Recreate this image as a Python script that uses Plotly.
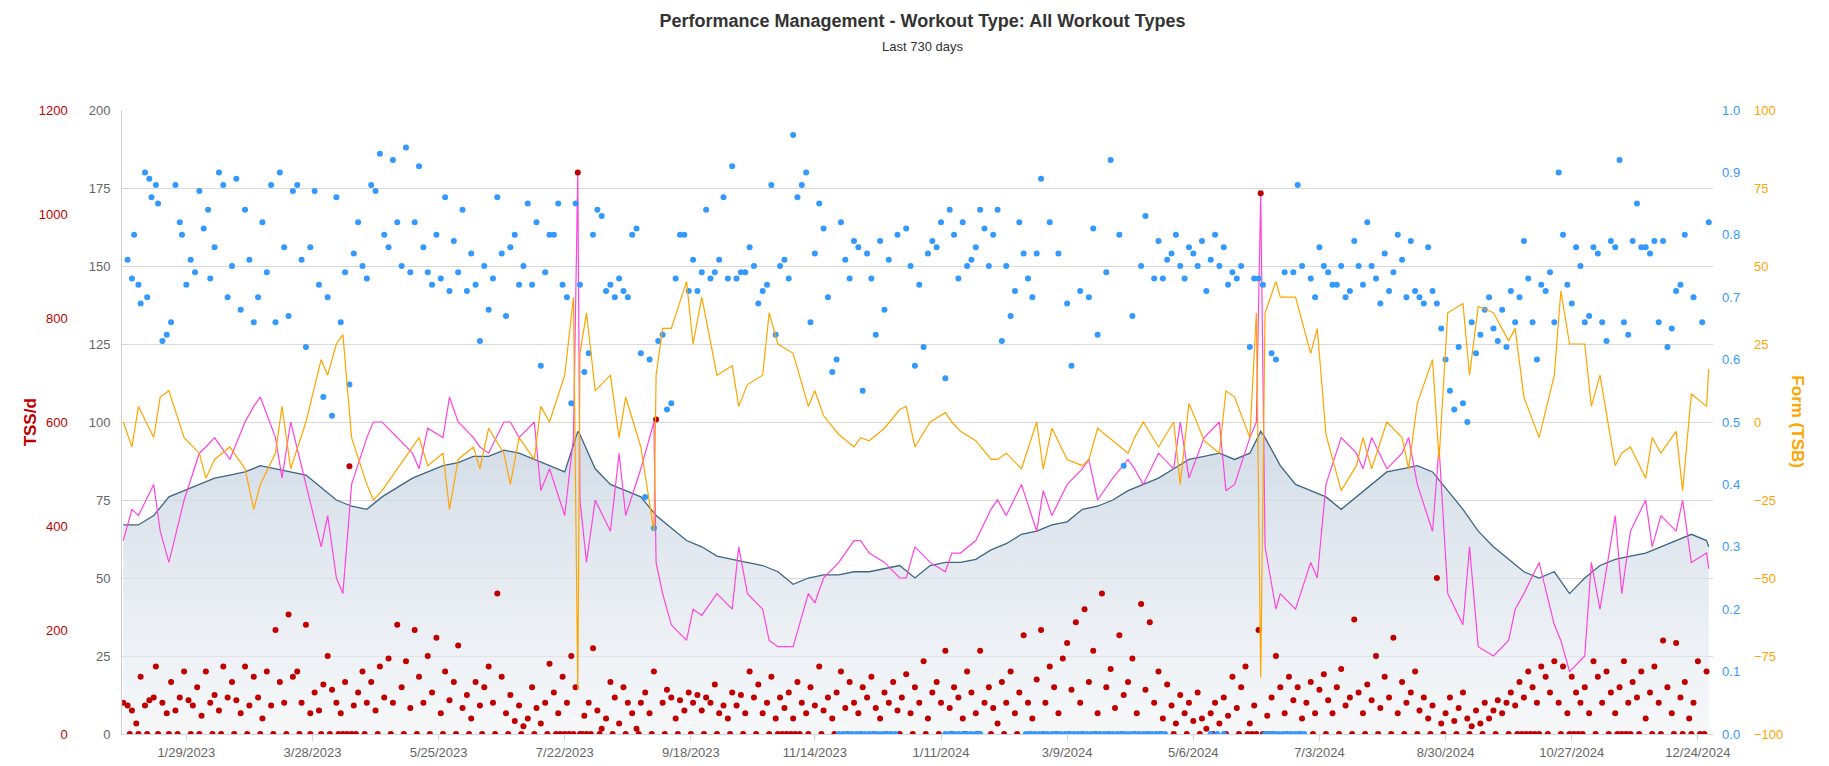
import pandas as pd
import numpy as np
import plotly.graph_objects as go

start = pd.Timestamp("2022-12-31")

tick_dates = ["2023-01-29", "2023-03-28", "2023-05-25", "2023-07-22", "2023-09-18", "2023-11-14",
              "2024-01-11", "2024-03-09", "2024-05-06", "2024-07-03", "2024-08-30", "2024-10-27",
              "2024-12-24"]

# weekly CTL / ATL / TSB (one value every 7 days from start)
ctl = [67, 67, 70, 76, 78, 80, 82, 83, 84, 86, 85, 84, 83, 79, 75, 73, 72, 76, 79, 82,
       84, 86, 87, 89, 89, 91, 90, 88, 86, 84, 96, 85, 80, 78, 76, 70, 66, 62, 60, 57,
       56, 55, 54, 52, 48, 50, 51, 51, 52, 52, 53, 54, 50, 54, 55, 55, 56, 59, 61, 64,
       65, 67, 68, 72, 73, 75, 78, 80, 82, 85, 88, 89, 90, 88, 90, 95, 86, 80, 78, 76,
       72, 76, 80, 84, 85, 86, 84, 78, 72, 65, 60, 56, 52, 50, 52, 45, 50, 54, 56, 57,
       58, 60, 62, 64, 62]
atl = [62, 70, 80, 55, 75, 90, 95, 88, 100, 108, 95, 100, 80, 60, 50, 80, 95, 100, 95, 90,
       98, 95, 100, 95, 90, 100, 95, 100, 85, 70, 75, 75, 65, 70, 85, 55, 35, 30, 38, 45,
       40, 45, 40, 28, 28, 45, 50, 55, 62, 58, 55, 50, 60, 55, 52, 58, 62, 72, 70, 80,
       65, 70, 80, 85, 75, 82, 88, 80, 90, 85, 82, 95, 100, 80, 95, 60, 45, 40, 55, 80,
       95, 90, 95, 85, 90, 80, 65, 45, 35, 28, 25, 30, 45, 55, 35, 20, 25, 40, 70, 65,
       75, 70, 65, 55, 58]
tsb = [0, 5, -5, 10, -5, -10, -12, -8, -15, -20, -10, -15, 0, 20, 25, -5, -20, -22, -15, -8,
       -14, -10, -12, -8, -2, -10, -5, -12, 0, 15, 22, 10, 15, 8, -8, 15, 30, 45, 40, 15,
       18, 12, 15, 25, 22, 5, 2, -4, -8, -6, -2, 4, -8, 0, 3, -3, -6, -12, -10, -15,
       0, -2, -12, -14, -2, -6, -10, 0, -8, 0, 6, -6, -10, 8, -5, 35, 40, 40, 22, -4,
       -22, -14, -15, 0, -5, 6, 20, 35, 38, 37, 35, 26, 8, -5, 15, 25, 25, 15, -14, -8,
       -18, -10, -3, 9, 5]

# mid-week wiggles and short spikes between the weekly points
ctl_extra_day = [209, 523, 729]
ctl_extra = [97, 97, 60]
atl_extra_day = [4, 17, 38, 60, 73, 94, 101, 115, 136, 150, 164, 178, 192, 207, 209, 213, 228, 244, 248,
                 262, 283, 297, 318, 339, 360, 381, 402, 423, 444, 465, 486, 507, 521, 523, 530,
                 549, 570, 591, 605, 619, 640, 661, 675, 689, 703, 717, 729]
atl_extra = [72, 65, 92, 105, 82, 70, 45, 100, 85, 108, 92, 100, 78, 95, 180, 55, 90, 100, 45,
             40, 60, 30, 42, 62, 50, 58, 75, 78, 88, 85, 100, 78, 100, 173, 40,
             50, 85, 95, 92, 60, 40, 30, 55, 45, 60, 75, 53]
tsb_extra_day = [4, 17, 38, 60, 73, 94, 101, 115, 136, 150, 164, 178, 192, 207, 209, 213, 228, 244, 248,
                 262, 283, 297, 318, 339, 360, 381, 402, 423, 444, 465, 486, 507, 521, 523, 530,
                 549, 570, 591, 605, 619, 640, 661, 675, 689, 703, 717, 729]
tsb_extra = [-8, 8, -18, -28, 5, 15, 28, -25, -5, -28, -15, -20, 5, 40, -86, 35, -5, -35, 30,
             25, 5, 35, 10, -5, 5, 0, -12, -15, -12, -5, -20, 10, 35, -82, 45,
             30, -5, -15, -12, 15, 30, 42, 5, -10, -5, -22, 17]

# daily TSS (day offset, value)
tss_day = [0, 2, 4, 6, 8, 10, 12, 14, 15, 18, 20, 22, 24, 26, 28, 30, 32, 34, 36, 38,
           40, 42, 44, 46, 48, 50, 52, 54, 56, 58, 60, 62, 64, 66, 68, 70, 72, 74, 76, 78,
           80, 82, 84, 86, 88, 90, 92, 94, 96, 98, 100, 102, 104, 106, 108, 110, 112, 114, 116, 118,
           120, 122, 124, 126, 128, 130, 132, 134, 136, 138, 140, 142, 144, 146, 148, 150, 152, 154, 156, 158,
           160, 162, 164, 166, 168, 170, 172, 174, 176, 178, 180, 182, 184, 186, 188, 190, 192, 194, 196, 198,
           200, 202, 204, 206, 208, 209, 212, 214, 216, 218, 220, 222, 224, 226, 228, 230, 232, 234, 236, 238,
           240, 242, 244, 245, 248, 250, 252, 254, 256, 258, 260, 262, 264, 266, 268, 270, 272, 274, 276, 278,
           280, 282, 284, 286, 288, 290, 292, 294, 296, 298, 300, 302, 304, 306, 308, 310, 312, 314, 316, 318,
           320, 322, 324, 326, 328, 330, 332, 334, 336, 338, 340, 342, 344, 346, 348, 350, 352, 354, 356, 358,
           360, 362, 364, 366, 368, 370, 372, 374, 376, 378, 380, 382, 384, 386, 388, 390, 392, 394, 396, 398,
           400, 402, 404, 406, 408, 410, 412, 414, 416, 418, 420, 422, 424, 426, 428, 430, 432, 434, 436, 438,
           440, 442, 444, 446, 448, 450, 452, 454, 456, 458, 460, 462, 464, 466, 468, 470, 472, 474, 476, 478,
           480, 482, 484, 486, 488, 490, 492, 494, 496, 498, 500, 502, 504, 506, 508, 510, 512, 514, 516, 518,
           520, 522, 523, 526, 528, 530, 532, 534, 536, 538, 540, 542, 544, 546, 548, 550, 552, 554, 556, 558,
           560, 562, 564, 566, 568, 570, 572, 574, 576, 578, 580, 582, 584, 586, 588, 590, 592, 594, 596, 598,
           600, 602, 604, 606, 608, 610, 612, 614, 616, 618, 620, 622, 624, 626, 628, 630, 632, 634, 636, 638,
           640, 642, 644, 646, 648, 650, 652, 654, 656, 658, 660, 662, 664, 666, 668, 670, 672, 674, 676, 678,
           680, 682, 684, 686, 688, 690, 692, 694, 696, 698, 700, 702, 704, 706, 708, 710, 712, 714, 716, 718,
           720, 722, 724, 728]
tss = [60, 55, 45, 20, 110, 55, 65, 70, 130, 60, 40, 100, 45, 70, 120, 65, 55, 90, 35, 120,
       60, 75, 45, 130, 70, 100, 65, 40, 130, 55, 110, 70, 30, 120, 55, 200, 100, 60, 230, 110,
       120, 60, 210, 40, 80, 45, 95, 150, 85, 60, 40, 100, 515, 55, 80, 120, 60, 100, 45, 130,
       70, 145, 60, 210, 90, 140, 50, 200, 110, 60, 150, 80, 185, 40, 120, 65, 100, 170, 50, 75,
       30, 100, 55, 90, 130, 60, 270, 110, 40, 75, 25, 55, 15, 30, 90, 50, 20, 60, 135, 80,
       40, 110, 60, 150, 90, 1080, 35, 60, 165, 45, 10, 30, 100, 70, 20, 90, 60, 40, 10, 60,
       80, 40, 120, 605, 60, 85, 70, 30, 65, 45, 80, 60, 75, 45, 70, 60, 95, 40, 55, 30,
       80, 55, 75, 40, 120, 70, 95, 40, 60, 110, 30, 70, 50, 80, 30, 100, 60, 40, 90, 55,
       130, 45, 70, 30, 80, 120, 50, 100, 60, 40, 90, 70, 110, 50, 30, 80, 60, 100, 45, 70,
       115, 40, 90, 60, 140, 30, 80, 100, 60, 160, 50, 90, 70, 30, 120, 80, 40, 160, 60, 90,
       50, 20, 100, 60, 120, 40, 80, 190, 60, 30, 105, 200, 60, 130, 90, 40, 145, 175, 85, 215,
       60, 240, 100, 160, 40, 270, 90, 125, 50, 190, 75, 100, 145, 40, 250, 85, 215, 60, 120, 30,
       95, 55, 20, 75, 40, 60, 25, 80, 30, 10, 40, 60, 20, 70, 35, 110, 50, 90, 130, 20,
       55, 200, 1040, 35, 70, 150, 90, 40, 110, 65, 90, 30, 60, 100, 40, 85, 115, 65, 40, 90,
       125, 55, 70, 220, 80, 40, 95, 65, 150, 50, 110, 70, 185, 40, 100, 60, 80, 120, 45, 70,
       30, 55, 300, 20, 40, 70, 25, 50, 80, 30, 15, 45, 20, 60, 30, 45, 65, 40, 60, 80,
       55, 100, 70, 120, 90, 60, 130, 110, 80, 140, 60, 130, 40, 110, 80, 60, 90, 40, 140, 110,
       60, 120, 80, 40, 90, 140, 60, 100, 70, 120, 30, 80, 130, 60, 180, 90, 40, 175, 70, 100,
       30, 60, 140, 120]
tss_zero_day = [3, 7, 11, 16, 21, 25, 31, 35, 41, 45, 51, 57, 63, 69, 75, 81, 86, 91, 95, 99,
                101, 103, 105, 107, 111, 117, 123, 129, 135, 141, 147, 153, 159, 165, 171, 177, 183, 189, 195, 199,
                201, 203, 205, 207, 210, 211, 213, 215, 219, 225, 231, 237, 243, 249, 255, 261, 267, 273, 279, 285,
                291, 297, 301, 303, 305, 307, 309, 311, 315, 321, 327, 333, 339, 345, 351, 357, 363, 369, 375, 381,
                387, 393, 399, 405, 411, 417, 423, 429, 435, 441, 447, 453, 459, 465, 471, 477, 483, 489, 495, 501,
                507, 513, 517, 519, 521, 524, 525, 527, 529, 535, 541, 547, 553, 559, 565, 571, 577, 583, 589, 595,
                601, 607, 613, 619, 625, 631, 637, 641, 643, 645, 647, 649, 651, 655, 661, 665, 667, 669, 671, 677,
                683, 687, 689, 691, 693, 697, 703, 707, 713, 717, 721, 725, 727]

# intensity factor (day offset, value)
if_day = [2, 4, 5, 7, 8, 10, 11, 12, 13, 15, 16, 18, 20, 22, 24, 26, 27, 29, 31, 33,
          35, 37, 39, 40, 42, 44, 46, 48, 50, 52, 54, 56, 58, 60, 62, 64, 66, 68, 70, 72,
          74, 76, 78, 80, 82, 84, 86, 88, 90, 92, 94, 96, 98, 100, 102, 104, 106, 108, 110, 112,
          114, 116, 118, 120, 122, 124, 126, 128, 130, 132, 134, 136, 138, 140, 142, 144, 146, 148, 150, 152,
          154, 156, 158, 160, 162, 164, 166, 168, 170, 172, 174, 176, 178, 180, 182, 184, 186, 188, 190, 192,
          194, 196, 198, 200, 202, 204, 206, 208, 210, 212, 214, 216, 218, 220, 222, 224, 226, 228, 230, 232,
          234, 236, 238, 240, 242, 244, 246, 248, 250, 252, 254, 256, 258, 260, 262, 264, 266, 268, 270, 272,
          274, 276, 278, 280, 282, 284, 286, 288, 290, 292, 294, 296, 298, 300, 302, 304, 306, 308, 310, 312,
          314, 316, 318, 320, 322, 324, 326, 328, 330, 332, 334, 336, 338, 340, 342, 344, 346, 348, 350, 352,
          356, 360, 362, 364, 366, 368, 370, 372, 374, 376, 378, 380, 382, 384, 386, 388, 390, 392, 394, 396,
          398, 400, 402, 404, 406, 408, 410, 412, 414, 416, 418, 420, 422, 426, 430, 434, 436, 440, 444, 446,
          448, 452, 454, 458, 460, 464, 468, 470, 474, 476, 478, 480, 482, 484, 486, 488, 490, 492, 494, 496,
          498, 500, 502, 504, 506, 508, 510, 512, 514, 518, 520, 522, 524, 528, 530, 534, 538, 540, 542, 546,
          548, 550, 552, 554, 556, 558, 560, 562, 564, 566, 568, 570, 572, 574, 576, 578, 580, 582, 584, 586,
          588, 590, 592, 594, 596, 598, 600, 602, 604, 606, 608, 610, 612, 614, 616, 618, 620, 622, 624, 626,
          628, 630, 632, 634, 636, 638, 640, 642, 644, 646, 648, 650, 652, 654, 656, 658, 660, 662, 664, 666,
          668, 670, 672, 674, 676, 678, 680, 682, 684, 686, 688, 690, 692, 694, 696, 698, 700, 702, 704, 706,
          708, 710, 712, 714, 716, 718, 722, 726, 729]
if_val = [.76, .73, .80, .72, .69, .90, .70, .89, .86, .88, .85, .63, .64, .66, .88, .82, .80, .72, .76, .74,
          .87, .81, .84, .73, .78, .90, .88, .70, .75, .89, .68, .84, .76, .66, .70, .82, .74, .88, .66, .90,
          .78, .67, .87, .88, .76, .62, .78, .87, .72, .54, .70, .51, .86, .66, .74, .56, .77, .82, .75, .73,
          .88, .87, .93, .80, .78, .92, .82, .75, .94, .74, .82, .91, .78, .74, .72, .80, .73, .86, .71, .79,
          .74, .84, .71, .77, .72, .63, .75, .68, .73, .86, .77, .67, .78, .80, .72, .75, .85, .72, .82, .59,
          .74, .80, .80, .85, .72, .70, .53, .85, .72, .58, .61, .80, .84, .83, .71, .72, .70, .73, .71, .70,
          .80, .81, .61, .38, .60, .33, .63, .64, .52, .53, .73, .80, .80, .71, .76, .71, .74, .84, .73, .74,
          .76, .86, .73, .91, .73, .74, .74, .78, .75, .69, .71, .72, .88, .64, .75, .76, .73, .96, .86, .88,
          .90, .66, .77, .85, .81, .70, .58, .60, .82, .76, .73, .79, .78, .55, .77, .73, .64, .79, .68, .76,
          .80, .81, .75, .59, .72, .62, .77, .79, .78, .82, .57, .84, .80, .73, .82, .75, .76, .78, .84, .81,
          .75, .80, .84, .63, .75, .67, .71, .82, .77, .73, .70, .77, .89, .82, .77, .69, .59, .71, .70, .81,
          .64, .74, .92, .80, .43, .67, .75, .83, .73, .79, .73, .76, .77, .80, .75, .73, .78, .77, .75, .79,
          .71, .76, .80, .75, .78, .72, .74, .73, .75, .62, .73, .73, .72, .61, .60, .74, .74, .88, .75, .73,
          .70, .78, .75, .74, .72, .72, .75, .70, .71, .79, .75, .72, .82, .75, .73, .69, .77, .71, .74, .80,
          .76, .70, .79, .71, .70, .69, .78, .71, .69, .65, .60, .55, .52, .62, .53, .50, .66, .61, .64, .68,
          .70, .65, .63, .68, .62, .71, .66, .70, .79, .73, .66, .60, .72, .71, .74, .66, .90, .80, .72, .69,
          .78, .75, .66, .67, .78, .77, .66, .63, .79, .78, .92, .66, .64, .79, .85, .78, .78, .77, .79, .66,
          .79, .62, .65, .71, .72, .80, .70, .66, .82]
if_zero_day = [329, 331, 333, 335, 337, 339, 341, 343, 345, 347, 349, 351, 353, 355, 378, 380, 382, 384, 386, 388,
               390, 392, 394, 415, 417, 419, 421, 423, 425, 427, 429, 431, 433, 435, 437, 439, 441, 443, 445, 447,
               449, 451, 453, 455, 457, 459, 461, 463, 465, 467, 469, 471, 473, 475, 477, 479, 500, 503, 506, 525,
               527, 529, 531, 533, 535, 537, 539, 541, 543]


def to_dates(days):
    return [start + pd.Timedelta(days=int(d)) for d in days]


def merged(weekly, extra_day, extra_val):
    days = [7 * i for i in range(len(weekly))] + list(extra_day)
    vals = list(weekly) + list(extra_val)
    order = np.argsort(days, kind="stable")
    return to_dates([days[k] for k in order]), [vals[k] for k in order]


ctl_x, ctl_y = merged(ctl, ctl_extra_day, ctl_extra)
atl_x, atl_y = merged(atl, atl_extra_day, atl_extra)
tsb_x, tsb_y = merged(tsb, tsb_extra_day, tsb_extra)

RED = "#c00000"
BLUE = "#3399ff"
ORANGE = "#ffa500"

fig = go.Figure()
fig.add_trace(go.Scatter(x=ctl_x, y=ctl_y, yaxis="y", mode="lines", name="Fitness (CTL)"
                         , line=dict(color="#3d6585", width=1.3), fill="tozeroy"
                         , fillgradient=dict(type="vertical"
                                             , colorscale=[[0, "rgba(240,243,246,0.6)"], [1, "rgba(195,208,222,0.75)"]])))
fig.add_trace(go.Scatter(x=atl_x, y=atl_y, yaxis="y", mode="lines", name="Fatigue (ATL)"
                         , line=dict(color="#ff44dd", width=1.2)))
fig.add_trace(go.Scatter(x=tsb_x, y=tsb_y, yaxis="y4", mode="lines", name="Form (TSB)"
                         , line=dict(color=ORANGE, width=1.2)))
fig.add_trace(go.Scatter(x=to_dates(tss_day) + to_dates(tss_zero_day), y=tss + [0] * len(tss_zero_day)
                         , yaxis="y2", mode="markers", name="TSS"
                         , marker=dict(color=RED, size=6)))
fig.add_trace(go.Scatter(x=to_dates(if_day) + to_dates(if_zero_day), y=if_val + [0] * len(if_zero_day)
                         , yaxis="y3", mode="markers", name="IF"
                         , marker=dict(color=BLUE, size=6)))

tickfont = dict(family="Liberation Sans, Arial", size=13)
fig.update_layout(
    width=1829, height=766, showlegend=False, plot_bgcolor="white", paper_bgcolor="white"
    , margin=dict(l=0, r=0, t=102, b=40)
    , font=dict(family="Liberation Sans, Arial", color="#666666")
    , title=dict(text="<b>Performance Management - Workout Type: All Workout Types</b>"
                 + "<br><span style='font-size:13px;color:#333333'>Last 730 days</span>"
                 , x=0.5, xanchor="center", y=0.975, yanchor="top"
                 , font=dict(size=18, color="#333333"))
    , xaxis=dict(domain=[0.063, 0.941], type="date"
                 , range=[start - pd.Timedelta(hours=12), start + pd.Timedelta(days=731)]
                 , tickvals=tick_dates, tickformat="%-m/%-d/%Y"
                 , showgrid=False, ticks="outside", ticklen=6, tickcolor="#ccd6eb"
                 , showline=True, linecolor="#ccd6eb", tickfont=dict(tickfont, color="#666666"))
    , yaxis=dict(range=[0, 200], dtick=25, anchor="x", side="left"
                 , showgrid=True, gridcolor="#d9d9d9", zeroline=False
                 , showline=True, linecolor="#d0d0d0", ticklabelstandoff=8
                 , tickfont=dict(tickfont, color="#666666"))
    , yaxis2=dict(range=[0, 1200], dtick=200, overlaying="y", anchor="free", position=0.033, side="left"
                  , showgrid=False, zeroline=False, showline=False
                  , tickfont=dict(tickfont, color=RED))
    , yaxis3=dict(range=[0, 1], dtick=0.1, tickformat=".1f", overlaying="y", anchor="x", side="right"
                  , showgrid=False, zeroline=False, ticklabelstandoff=8
                  , tickfont=dict(tickfont, color=BLUE))
    , yaxis4=dict(range=[-100, 100], dtick=25, overlaying="y", anchor="free", position=0.963, side="right"
                  , showgrid=False, zeroline=False, showline=False
                  , tickfont=dict(tickfont, color=ORANGE))
)
fig.add_annotation(text="<b>TSS/d</b>", textangle=-90, x=0.006, y=0.5, xref="paper", yref="paper"
                   , showarrow=False, font=dict(size=17, color=RED))
fig.add_annotation(text="<b>Form (TSB)</b>", textangle=90, x=0.994, y=0.5, xref="paper", yref="paper"
                   , showarrow=False, font=dict(size=17, color=ORANGE))

fig.write_html("out.html", config={"displayModeBar": False})
